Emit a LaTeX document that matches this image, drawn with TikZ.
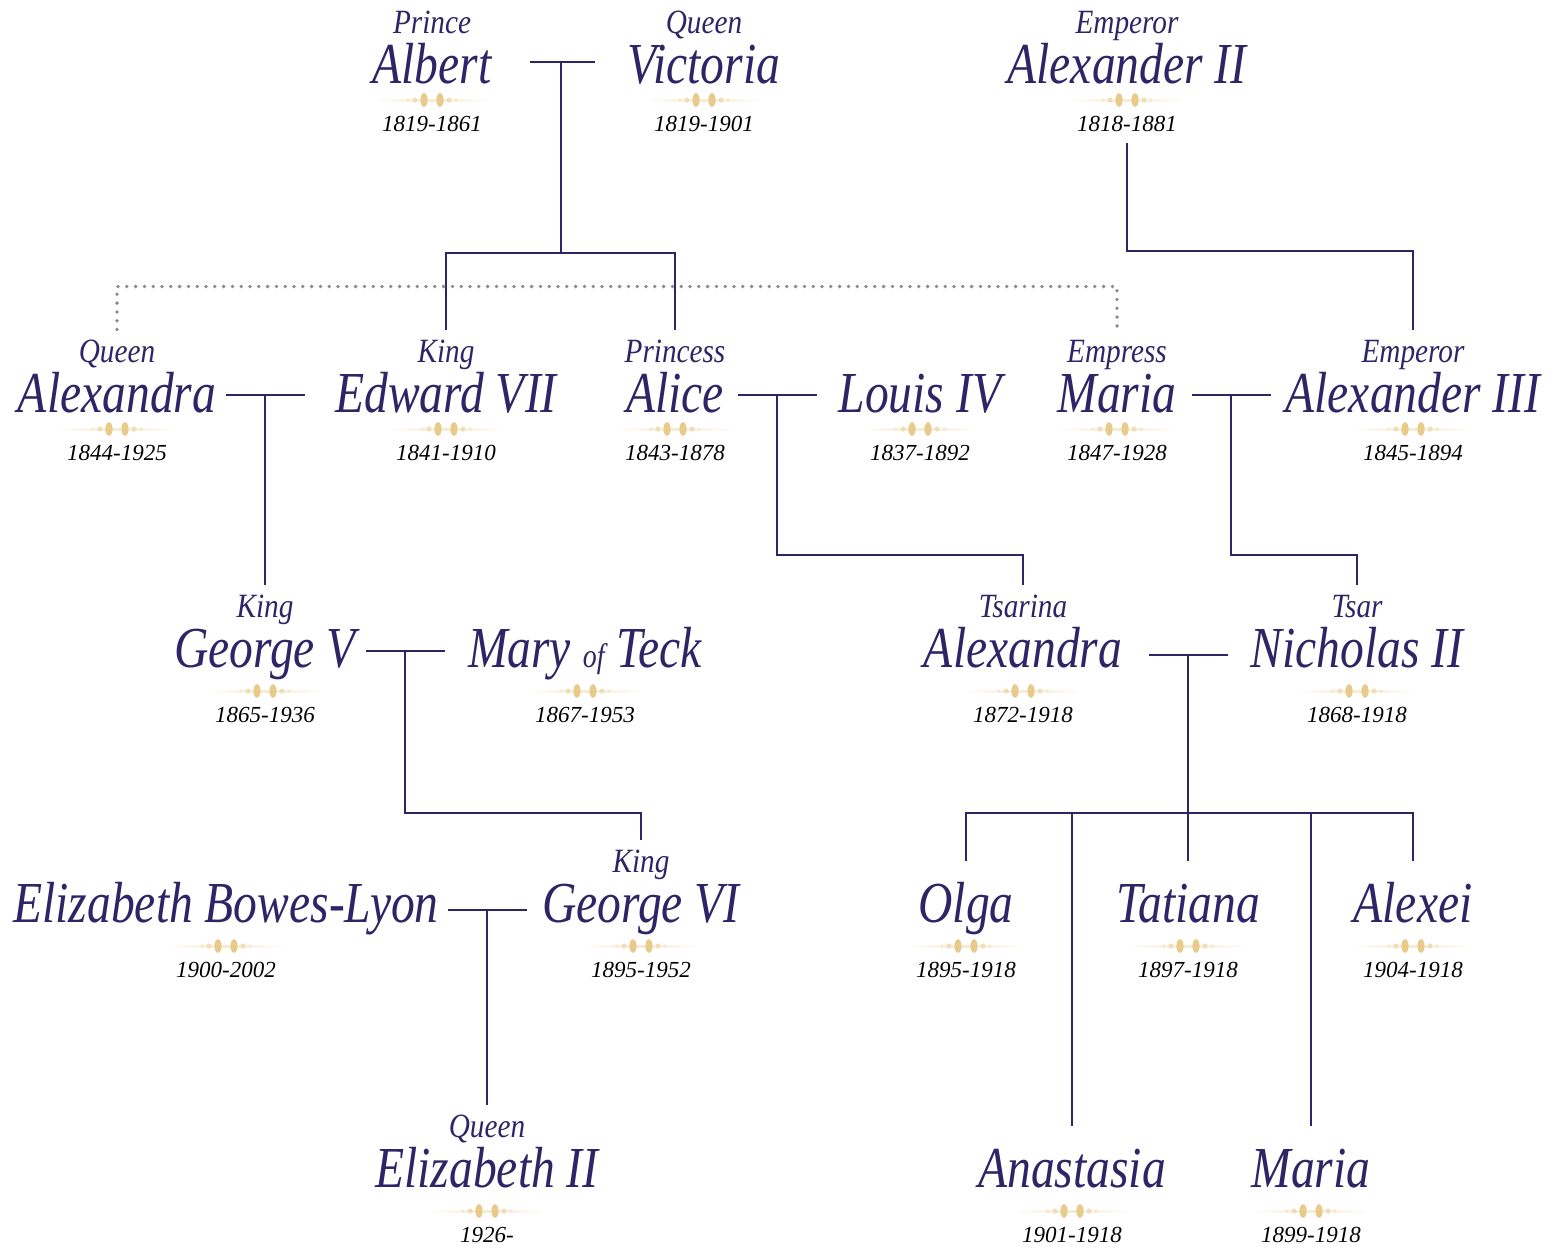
\documentclass[tikz,border=0pt]{standalone}
\usepackage{fontspec}
\setmainfont{Liberation Serif}
\newfontfamily\namefont[FakeStretch=0.82]{Liberation Serif}
\newfontfamily\titlefont[FakeStretch=0.86]{Liberation Serif}
\usetikzlibrary{calc}
\definecolor{royal}{HTML}{2E2466}
\definecolor{gilt}{HTML}{E2BD6E}

\begin{document}
\begin{tikzpicture}[x=0.5pt,y=-0.5pt,
  nm/.style={font=\namefont\itshape\fontsize{29}{30}\selectfont,text=royal,inner sep=0pt,anchor=base},
  ttl/.style={font=\titlefont\itshape\fontsize{17}{18}\selectfont,text=royal,inner sep=0pt,outer sep=5pt,anchor=base},
  yrs/.style={font=\itshape\fontsize{11.5}{12}\selectfont,inner sep=0pt,outer sep=6pt,anchor=base},
  tie/.style={draw=royal,line width=1pt},
  kinline/.style={draw=black!45,line width=1.9pt,line cap=round,dash pattern=on 0pt off 4.4pt},
  orn/.pic={
    \shade[left color=white,right color=gilt!30] (-60,-1) rectangle (0,1);
    \shade[left color=gilt!30,right color=white] (0,-1) rectangle (60,1);
    \fill[gilt!80] (-8,0) ellipse [x radius=1.8pt,y radius=3.4pt];
    \fill[gilt!80] (8,0) ellipse [x radius=1.8pt,y radius=3.4pt];
    \fill[gilt!50] (-17,0) circle (1.3pt); \fill[gilt!50] (17,0) circle (1.3pt);
    \fill[gilt!35] (-24,0) circle (0.9pt); \fill[gilt!35] (24,0) circle (0.9pt);
  }]
\useasboundingbox (0,0) rectangle (1554,1250);

% people: name, title over it, ornament and years under it (\g = extra gap)
\foreach \id/\x/\y/\g/\ttl/\nm/\yrs in {
  albert/432/83/0/Prince/Albert/1819-1861,
  victoria/704/83/0/Queen/Victoria/1819-1901,
  alexii/1127/83/0/Emperor/{Alexander II}/1818-1881,
  alexq/117/412/0/Queen/Alexandra/1844-1925,
  edward/446/412/0/King/{Edward VII}/1841-1910,
  alice/675/412/0/Princess/Alice/1843-1878,
  louis/920/412/0/{}/{Louis IV}/1837-1892,
  empress/1117/412/0/Empress/Maria/1847-1928,
  alexiii/1413/412/0/Emperor/{Alexander III}/1845-1894,
  georgev/265/667/7/King/{George V}/1865-1936,
  mary/585/667/7/{}/{Mary {\fontsize{17}{17}\selectfont of} Teck}/1867-1953,
  tsarina/1023/667/7/Tsarina/Alexandra/1872-1918,
  nicholas/1357/667/7/Tsar/{Nicholas II}/1868-1918,
  ebl/226/922/7/{}/{Elizabeth Bowes-Lyon}/1900-2002,
  georgevi/641/922/7/King/{George VI}/1895-1952,
  olga/966/922/7/{}/Olga/1895-1918,
  tatiana/1188/922/7/{}/Tatiana/1897-1918,
  alexei/1413/922/7/{}/Alexei/1904-1918,
  elizii/487/1187/7/Queen/{Elizabeth II}/1926-,
  anastasia/1072/1187/7/{}/Anastasia/1901-1918,
  mariar/1311/1187/7/{}/Maria/1899-1918}{
  \node[ttl] (\id-t) at (\x,{\y-50}) {\ttl};
  \node[nm] (\id) at (\x,\y) {\nm};
  \pic at (\x,{\y+17+\g}) {orn};
  \node[yrs] (\id-d) at (\x,{\y+48+\g}) {\yrs};
}

% marriages
\coordinate (av) at (561,62);
\coordinate (ae) at (265,395);
\coordinate (al) at (777,395);
\coordinate (ma) at (1231,395);
\coordinate (gm) at (405,651);
\coordinate (tn) at (1188,655);
\coordinate (eg) at (487,910);
\draw[tie] (av) ++(-31,0) -- ++(65,0);
\foreach \m in {ae,al,ma,gm,tn,eg}
  \draw[tie] (\m) ++(-39,0) -- ++(79,0);

% descents
\draw[tie] (av) -- ++(0,191) coordinate (avk);
\draw[tie] (edward-t.north) |- (avk) -| (alice-t.north);
\draw[tie] (alexii-d.south) -- ++(0,108) -| (alexiii-t.north);
\draw[kinline] (alexq-t.north) -- ++(0,-43) -| (empress-t.north);
\draw[tie] (ae) -- (georgev-t.north);
\draw[tie] (al) -- ++(0,160) -| (tsarina-t.north);
\draw[tie] (ma) -- ++(0,160) -| (nicholas-t.north);
\draw[tie] (gm) -- ++(0,162) -| (georgevi-t.north);
\draw[tie] (tn) -- ++(0,158) coordinate (tnk);
\draw[tie] (olga-t.north) |- (tnk) -| (alexei-t.north);
\draw[tie] (tnk) -- (tatiana-t.north);
\draw[tie] (anastasia-t.north) -- (anastasia-t.north |- tnk);
\draw[tie] (mariar-t.north) -- (mariar-t.north |- tnk);
\draw[tie] (eg) -- (elizii-t.north);
\end{tikzpicture}
\end{document}
